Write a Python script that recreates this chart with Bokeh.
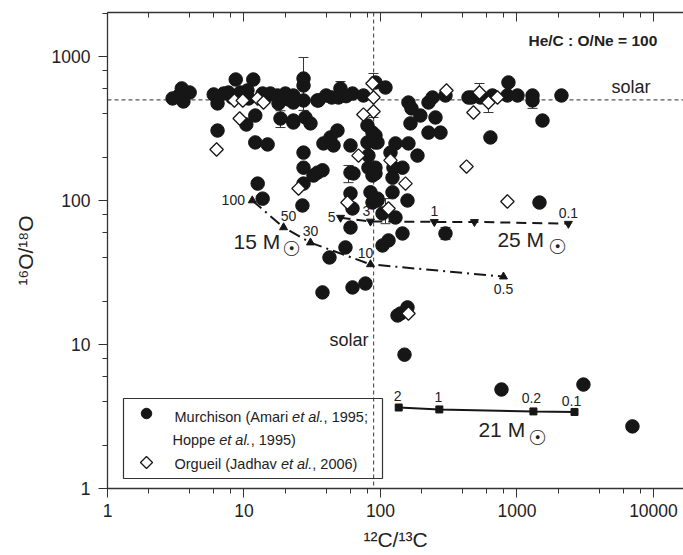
import math

from bokeh.core.properties import value
from bokeh.embed import file_html
from bokeh.models import (BoxAnnotation, ColumnDataSource, CustomJSTickFormatter,
                          LogAxis, LogTicker, Range1d, Span, TeeHead, Whisker)
from bokeh.plotting import figure
from bokeh.resources import INLINE

# ---------------------------------------------------------------- data
# Murchison SiC grains (Amari et al., 1995; Hoppe et al., 1995)
murch_c12c13 = [3.0, 3.3, 3.5, 3.6, 4.0,
                8.7, 11.7, 6.0, 6.4, 7.1, 7.7, 8.2, 9.4, 10.6, 10.8, 13.7, 14.4, 15.6, 17.6,
                20.1, 21.2, 23.0, 17.9, 18.5, 23.0, 12.1, 10.4, 6.4, 12.1, 14.9, 12.6, 13.7,
                27.3, 27.3, 23.0, 27.3, 34.5, 35.1, 23.0, 28.2, 30.7, 50.9, 49.2, 62.4, 75.0,
                80.3, 87.4, 80.3, 91.9, 81.6, 48.4, 43.0, 38.2, 45.3, 27.3, 27.3, 34.5, 37.6,
                32.3, 60.3, 60.3, 63.4, 81.6, 87.4, 27.3, 26.8, 60.3, 62.4, 84.5, 87.4, 95.1,
                60.3, 55.4, 42.3, 37.6, 62.4, 77.6, 91.9, 108.8, 44.0, 40.0, 56.0,
                160.3, 168.7, 196.0, 165.9, 224.8, 240.6, 252.9, 224.8, 275.2, 299.4, 441.6,
                91.9, 95.1, 128.8, 160.3, 186.6, 118.4, 145.0, 124.5, 122.5, 91.9, 91.9,
                122.5, 157.7, 95.1, 128.8, 103.5, 145.0, 114.5, 103.5, 299.4, 140.2, 133.3,
                157.7, 150.0,
                464.5, 540.0, 661.0, 866.0, 851.0, 1009.0, 1300.0, 1300.0, 1538.0, 2118.0,
                639.0, 1462.0, 770.0, 3069.0, 7015.0]
murch_o16o18 = [511, 530, 600, 487, 562,
                692, 692, 545, 472, 553, 562, 519, 562, 581, 511, 553, 519, 553, 536,
                553, 503, 536, 472, 371, 348, 389, 337, 306, 253, 245, 131, 103,
                703, 629, 479, 495, 495, 495, 359, 377, 343, 600, 519, 553, 536,
                332, 296, 253, 253, 205, 306, 274, 249, 241, 215, 169, 156, 162,
                149, 241, 156, 154, 169, 149, 131, 92.3, 112, 88.0, 114, 96.8, 103,
                64.9, 47.2, 40.2, 23.0, 24.9, 26.5, 660, 609, 519, 536, 530,
                479, 436, 389, 343, 479, 519, 377, 296, 296, 536, 519,
                283, 253, 249, 249, 205, 215, 169, 169, 144, 169, 154,
                114, 100, 100, 76.2, 81.2, 59.0, 52.8, 48.7, 59.0, 16.4, 15.9,
                18.1, 8.5,
                519, 519, 536, 660, 536, 536, 536, 495, 359, 536,
                274, 96.8, 4.87, 5.27, 2.70]

# Orgueil SiC grains (Jadhav et al., 2006)
org_c12c13 = [6.3, 8.5, 9.8, 12.6, 13.9, 9.3, 25.1, 57.3, 87.4, 88.9, 88.9, 75.0,
              69.0, 118.4, 152.5, 114.5, 160.3, 304.5, 531.0, 480.0, 618.0, 720.0,
              427.0, 851.0]
org_o16o18 = [226, 495, 495, 511, 479, 371, 121, 96.8, 649, 519, 415, 395,
              205, 190, 131, 88.0, 16.4, 581, 562, 408, 479, 519,
              172, 98.4]

# 1-sigma uncertainties shown for a few grains
err_c12c13 = [27.3, 50.9, 88.9, 18.5, 531.0, 618.0, 1300.0, 58.3, 108.8, 299.4]
err_low = [422, 560, 377, 321, 495, 408, 436, 133, 69, 53.5]
err_high = [984, 670, 762, 420, 649, 540, 560, 175, 103, 65]

# supernova mixing models, He/C : O/Ne = 100, labelled by mixing ratio
m15_c12c13 = [11.5, 19.5, 30.7, 84.5, 796.0]
m15_o16o18 = [100, 65, 51, 36, 29.6]
m15_labels = ["100", "50", "30", "10", "0.5"]

m25_c12c13 = [51.0, 84.5, 248.0, 488.0, 2380.0]
m25_o16o18 = [76, 71.5, 71, 71, 69]
m25_labels = ["5", "3", "1", "", "0.1"]

m21_c12c13 = [136.0, 270.0, 1320.0, 2640.0]
m21_o16o18 = [3.65, 3.54, 3.43, 3.40]
m21_labels = ["2", "1", "0.2", "0.1"]

# solar isotope ratios
solar_c12c13 = 89
solar_o16o18 = 499

# ---------------------------------------------------------------- figure
X_MIN, X_MAX = 1, 16600
Y_MIN, Y_MAX = 1, 2020
FRAME_W, FRAME_H = 576, 476
FONT = "Liberation Sans"
INK = "#161616"
TEXT = "#222222"

p = figure(width=683, height=555, x_axis_type="log", y_axis_type="log",
           x_range=Range1d(X_MIN, X_MAX), y_range=Range1d(Y_MIN, Y_MAX),
           output_backend="svg", toolbar_location=None,
           min_border_left=107, min_border_right=0,
           min_border_top=12, min_border_bottom=67)
p.outline_line_color = None
p.grid.visible = False
p.background_fill_color = "white"


def frame_pt(px, py):
    """Data coordinates of a point given in pixels from the frame's top-left."""
    lx0, lx1 = math.log10(X_MIN), math.log10(X_MAX)
    ly0, ly1 = math.log10(Y_MIN), math.log10(Y_MAX)
    return (10 ** (lx0 + px / FRAME_W * (lx1 - lx0)),
            10 ** (ly1 - py / FRAME_H * (ly1 - ly0)))


plain = CustomJSTickFormatter(code="return tick.toFixed(0)")

for ax in (p.xaxis[0], p.yaxis[0]):
    ax.ticker = LogTicker(desired_num_ticks=5)
    ax.formatter = plain
    ax.axis_line_color = "#333333"
    ax.axis_line_width = 1.3
    ax.major_tick_line_color = "#333333"
    ax.minor_tick_line_color = "#333333"
    ax.major_tick_in = 0
    ax.major_tick_out = 9
    ax.minor_tick_in = 0
    ax.minor_tick_out = 5
    ax.major_label_text_font = FONT
    ax.major_label_text_font_size = "17.5px"
    ax.major_label_text_color = TEXT
    ax.axis_label_text_font = FONT
    ax.axis_label_text_font_style = "normal"
    ax.axis_label_text_font_size = "21px"
    ax.axis_label_text_color = TEXT

p.xaxis[0].major_label_standoff = 6
p.xaxis[0].axis_label = "\u00b9\u00b2C/\u00b9\u00b3C"
p.xaxis[0].axis_label_standoff = 8
p.yaxis[0].major_label_standoff = 8
p.yaxis[0].axis_label = "\u00b9\u2076O/\u00b9\u2078O"
p.yaxis[0].axis_label_standoff = 12

top = LogAxis(ticker=LogTicker(desired_num_ticks=5),
              formatter=CustomJSTickFormatter(code="return ''"))
top.axis_line_color = "#333333"
top.axis_line_width = 1.3
top.major_tick_line_color = "#333333"
top.minor_tick_line_color = "#333333"
top.major_tick_in = 9
top.major_tick_out = 0
top.minor_tick_in = 5
top.minor_tick_out = 0
top.major_label_standoff = 0
p.add_layout(top, "above")

# solar reference lines
for loc, dim in ((solar_o16o18, "width"), (solar_c12c13, "height")):
    p.add_layout(Span(location=loc, dimension=dim, line_color="#555555",
                      line_dash="4 3", line_width=1.2, level="underlay"))

# ---------------------------------------------------------------- grains
p.scatter(murch_c12c13, murch_o16o18, marker="circle", size=13.5,
          fill_color=INK, line_color=INK)

err_src = ColumnDataSource(dict(base=err_c12c13, lower=err_low, upper=err_high))
p.add_layout(Whisker(source=err_src, base="base", lower="lower", upper="upper",
                     dimension="height", line_color="#333333", line_width=1,
                     upper_head=TeeHead(size=10, line_color="#333333", line_width=1),
                     lower_head=TeeHead(size=10, line_color="#333333", line_width=1)))

p.scatter(org_c12c13, org_o16o18, marker="square", angle=math.pi / 4, size=9.5,
          fill_color="white", line_color=INK, line_width=1.3)

# ---------------------------------------------------------------- models
label_style = dict(text_font=value(FONT), text_font_size="14px",
                   text_color=TEXT, text_align="center", text_baseline="middle")

p.line(m15_c12c13, m15_o16o18, line_color=INK, line_width=2, line_dash="12 5 2 5")
p.scatter(m15_c12c13, m15_o16o18, marker="triangle", size=8, color=INK)
p.text(m15_c12c13, m15_o16o18, text=m15_labels,
       x_offset=[-19, 5, 0, -5, 0], y_offset=[0, -11, -12, -11, 12], **label_style)

p.line(m25_c12c13, m25_o16o18, line_color=INK, line_width=2, line_dash="10 6")
p.scatter(m25_c12c13, m25_o16o18, marker="inverted_triangle", size=8, color=INK)
p.text(m25_c12c13, m25_o16o18, text=m25_labels,
       x_offset=[-9, -4, 0, 0, 0], y_offset=[-1, -10, -11, -11, -11], **label_style)

p.line(m21_c12c13, m21_o16o18, line_color=INK, line_width=2)
p.scatter(m21_c12c13, m21_o16o18, marker="square", size=7, color=INK)
p.text(m21_c12c13, m21_o16o18, text=m21_labels,
       x_offset=[-1, -1, -2, -3], y_offset=[-12, -12, -13, -11], **label_style)

name_style = dict(text_font=value(FONT), text_font_size="21px", text_color=TEXT,
                  text_align="left", text_baseline="middle")
sun_style = dict(text_font=value("DejaVu Sans"), text_font_size="21px",
                 text_color=TEXT, text_align="center", text_baseline="middle")
p.text([8.38, 719, 522], [51.9, 53.6, 2.57], text=["15 M", "25 M", "21 M"], **name_style)
p.text([22.3, 1981, 1413], [45.7, 47.2, 2.26], text=["\u2609"] * 3, **sun_style)

# ---------------------------------------------------------------- annotations
p.text([4923], [solar_o16o18], text=["solar"], y_offset=[-3],
       text_font=value(FONT), text_font_size="18px", text_color=TEXT,
       text_align="left", text_baseline="bottom")
p.text([solar_c12c13], [10.7], text=["solar"], x_offset=[-5],
       text_font=value(FONT), text_font_size="18px", text_color=TEXT,
       text_align="right", text_baseline="middle")
p.text([1214], [1291], text=["He/C : O/Ne = 100"],
       text_font=value(FONT), text_font_size="15.5px", text_font_style="bold",
       text_color=TEXT, text_align="left", text_baseline="middle")

# legend box
bx0, by0 = frame_pt(16, 466)
bx1, by1 = frame_pt(275, 386)
p.add_layout(BoxAnnotation(left=bx0, right=bx1, bottom=by0, top=by1,
                           fill_alpha=0, line_color="#333333", line_width=1.2,
                           line_alpha=1))

cx, cy = frame_pt(39, 401)
p.scatter([cx], [cy], marker="circle", size=10.5, fill_color=INK, line_color=INK)
dx, dy = frame_pt(39, 450)
p.scatter([dx], [dy], marker="square", angle=math.pi / 4, size=8.5,
          fill_color="white", line_color=INK, line_width=1.3)

legend_lines = [
    ((67, 404), ["Murchison (Amari", "et al.", ", 1995;"], [0, 117.6, 149.1]),
    ((65, 427), ["Hoppe", "et al.", ", 1995)"], [0, 46.7, 78.2]),
    ((67, 451), ["Orgueil (Jadhav", "et al.", ", 2006)"], [0, 106.4, 137.8]),
]
for (fx, fy), pieces, offs in legend_lines:
    lx, ly = frame_pt(fx, fy)
    p.text([lx] * 3, [ly] * 3, text=pieces, x_offset=offs,
           text_font=value(FONT), text_font_size="14.5px", text_color=TEXT,
           text_font_style=["normal", "italic", "normal"],
           text_align="left", text_baseline="middle")

open("out.html", "w").write(file_html(p, INLINE))
